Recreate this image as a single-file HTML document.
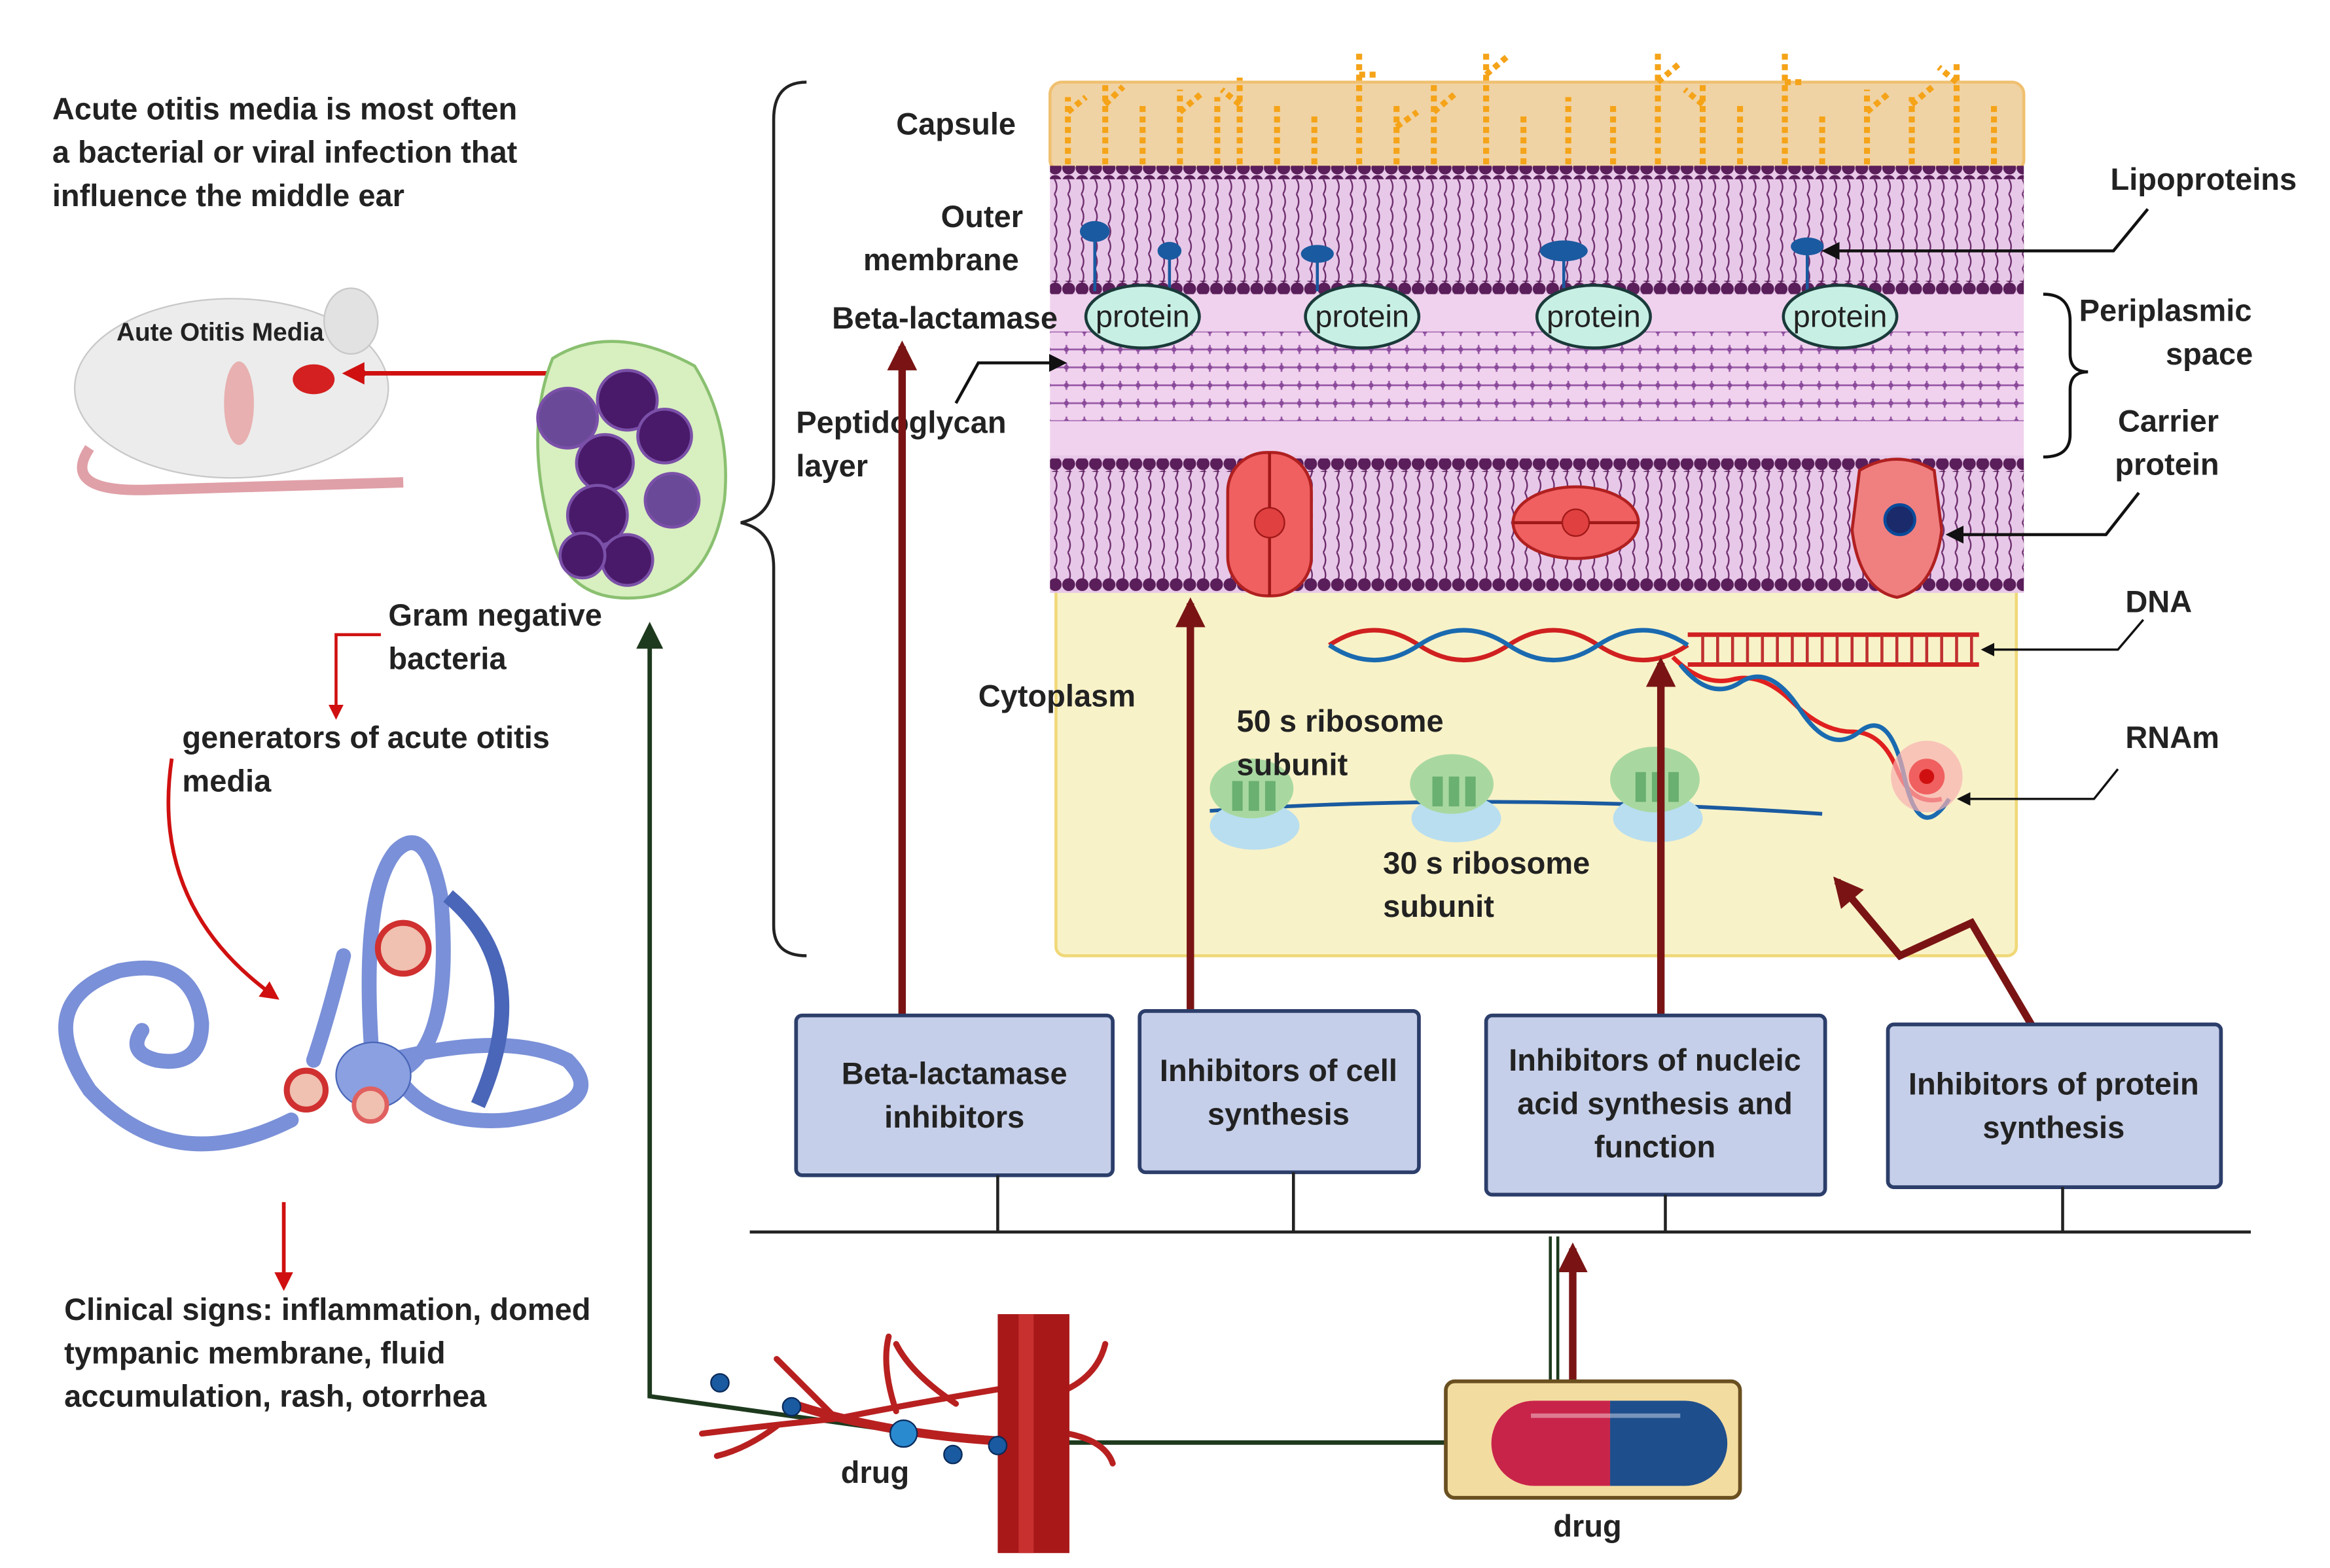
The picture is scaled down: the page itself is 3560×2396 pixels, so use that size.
<!DOCTYPE html>
<html><head><meta charset="utf-8"><style>
html,body{margin:0;padding:0;background:#fff}
svg{display:block}
text{font-family:"Liberation Sans",sans-serif;font-weight:bold;fill:#222;font-size:20.6px}
</style></head><body>
<svg width="3560" height="2396" viewBox="0 0 1560 1050" preserveAspectRatio="none" xmlns="http://www.w3.org/2000/svg">
<defs>
<marker id="ar" viewBox="0 0 10 10" refX="8" refY="5" markerWidth="5" markerHeight="5" orient="auto"><path d="M0,0L10,5L0,10z" fill="#d01010"/></marker>
<marker id="dr" viewBox="0 0 10 10" refX="8" refY="5" markerWidth="4" markerHeight="4" orient="auto"><path d="M0,0L10,5L0,10z" fill="#7a1414"/></marker>
<marker id="bk" viewBox="0 0 10 10" refX="8" refY="5" markerWidth="6" markerHeight="6" orient="auto"><path d="M0,0L10,5L0,10z" fill="#111"/></marker>
<marker id="gr" viewBox="0 0 10 10" refX="8" refY="5" markerWidth="6" markerHeight="6" orient="auto"><path d="M0,0L10,5L0,10z" fill="#1e3a1e"/></marker>
<pattern id="lip" width="9" height="10" patternUnits="userSpaceOnUse"><path d="M4,0 q3,5 0,10" stroke="#6a2a6a" fill="none" stroke-width="1"/></pattern>
<pattern id="dots" width="9" height="9" patternUnits="userSpaceOnUse"><circle cx="4.5" cy="4.5" r="4.3" fill="#5a1e5a"/></pattern>
<pattern id="pg" width="12" height="12" patternUnits="userSpaceOnUse"><path d="M0,6h12M6,3v6" stroke="#9a5aa8" stroke-width="1.2"/><circle cx="6" cy="6" r="1.6" fill="#8a4a9a"/></pattern>
</defs>

<text x="35" y="80">Acute otitis media is most often</text>
<text x="35" y="109">a bacterial or viral infection that</text>
<text x="35" y="138">influence the middle ear</text>

<!-- mouse -->
<ellipse cx="155" cy="260" rx="105" ry="60" fill="#ececec" stroke="#c8c8c8"/>
<ellipse cx="235" cy="215" rx="18" ry="22" fill="#e2e2e2" stroke="#c8c8c8"/>
<path d="M60,300 q-20,30 40,28 l170,-5" stroke="#e0a0a8" stroke-width="7" fill="none"/>
<ellipse cx="160" cy="270" rx="10" ry="28" fill="#e8b0b0"/>
<ellipse cx="210" cy="254" rx="14" ry="10" fill="#d42020"/>
<circle cx="242" cy="250" r="3" fill="#c01010"/>
<text x="78" y="228" style="font-size:17px">Aute Otitis Media</text>
<line x1="392" y1="250" x2="232" y2="250" stroke="#d01010" stroke-width="3" marker-end="url(#ar)"/>

<!-- bacteria -->
<path d="M370,240 q40,-25 95,5 q25,40 20,90 q-10,60 -55,65 q-50,5 -60,-40 q-20,-70 0,-120z" fill="#d8efc0" stroke="#8ac070" stroke-width="2"/>
<g fill="#4a1a6a" stroke="#7a50a8" stroke-width="2">
<circle cx="380" cy="280" r="20" fill="#6a4a98"/><circle cx="420" cy="268" r="20"/><circle cx="445" cy="292" r="18"/><circle cx="405" cy="310" r="19"/><circle cx="450" cy="335" r="18" fill="#6a4a98"/><circle cx="400" cy="345" r="20"/><circle cx="420" cy="375" r="17"/><circle cx="390" cy="372" r="15"/>
</g>
<text x="260" y="419">Gram negative</text>
<text x="260" y="448">bacteria</text>
<path d="M255,425 H225 V480" stroke="#d01010" stroke-width="2" fill="none" marker-end="url(#ar)"/>
<text x="122" y="501">generators of acute otitis</text>
<text x="122" y="530">media</text>
<path d="M115,508 q-15,100 70,160" stroke="#d01010" stroke-width="2.5" fill="none" marker-end="url(#ar)"/>

<!-- inner ear -->
<g fill="none" stroke="#7a90d8" stroke-width="10" stroke-linecap="round">
<path d="M195,750 q-80,40 -135,-20 q-40,-60 20,-80 q50,-10 55,35 q0,30 -30,25 q-20,-5 -10,-20"/>
<path d="M250,720 q-10,-120 15,-150 q20,-20 30,30 q10,110 -35,120"/>
<path d="M260,710 q80,-20 120,0 q30,30 -40,40 q-60,5 -80,-40"/>
<path d="M230,640 q-10,40 -20,70"/>
</g>
<path d="M300,600 q60,50 20,140" stroke="#4a66b8" stroke-width="10" fill="none"/>
<ellipse cx="250" cy="720" rx="25" ry="22" fill="#8aa0e0" stroke="#4a66b8"/>
<circle cx="270" cy="635" r="17" fill="#f0c0b0" stroke="#d03030" stroke-width="4"/>
<circle cx="205" cy="730" r="13" fill="#f0c0b0" stroke="#d03030" stroke-width="4"/>
<circle cx="248" cy="740" r="11" fill="#f0c0b0" stroke="#e06060" stroke-width="3"/>
<line x1="190" y1="805" x2="190" y2="862" stroke="#d01010" stroke-width="2.5" marker-end="url(#ar)"/>
<text x="43" y="884">Clinical signs: inflammation, domed</text>
<text x="43" y="913">tympanic membrane, fluid</text>
<text x="43" y="942">accumulation, rash, otorrhea</text>

<path d="M540,55 q-22,0 -22,25 v240 q0,25 -22,30 q22,5 22,30 v240 q0,20 22,20" stroke="#222" stroke-width="2" fill="none"/>

<rect x="707" y="380" width="643" height="260" rx="6" fill="#f8f2c8" stroke="#f0d878" stroke-width="2"/>
<rect x="703" y="55" width="652" height="60" rx="8" fill="#f0d3a4" stroke="#f0c070" stroke-width="2"/>
<g stroke="#f5a318" stroke-width="4" stroke-dasharray="4 3" fill="none">
<path d="M715,110v-45M740,110v-55M765,110v-40M790,110v-50M815,110v-45M830,110v-58M855,110v-40M880,110v-35M910,110v-75M935,110v-40M960,110v-55M995,110v-75M1020,110v-35M1050,110v-45M1080,110v-40M1110,110v-75M1140,110v-55M1165,110v-40M1195,110v-75M1220,110v-35M1250,110v-50M1280,110v-45M1310,110v-70M1335,110v-40"/>
<path d="M715,75l12,-10M740,70l12,-12M790,75l14,-12M830,70l-12,-10M910,50h14M935,85l14,-10M960,75l14,-12M995,50l14,-12M1110,55l14,-12M1140,70l-12,-10M1195,55h14M1250,75l14,-12M1280,70l14,-12M1310,55l-12,-10"/>
</g>
<rect x="703" y="112" width="652" height="85" fill="#e8c8e8"/>
<rect x="703" y="120" width="652" height="70" fill="url(#lip)"/>
<rect x="703" y="111" width="652" height="9" fill="url(#dots)"/>
<rect x="703" y="188" width="652" height="9" fill="url(#dots)"/>
<rect x="703" y="197" width="652" height="108" fill="#f0d2ee"/>
<rect x="703" y="222" width="652" height="60" fill="url(#pg)"/>
<rect x="703" y="305" width="652" height="92" fill="#e8c8e8"/>
<rect x="703" y="314" width="652" height="75" fill="url(#lip)"/>
<rect x="703" y="307" width="652" height="9" fill="url(#dots)"/>
<rect x="703" y="387" width="652" height="9" fill="url(#dots)"/>

<g fill="#1a5aa0"><ellipse cx="733" cy="155" rx="10" ry="7"/><ellipse cx="783" cy="168" rx="8" ry="6"/><ellipse cx="882" cy="170" rx="11" ry="6"/><ellipse cx="1047" cy="168" rx="16" ry="7"/><ellipse cx="1210" cy="165" rx="11" ry="6"/></g>
<g stroke="#1a5aa0" stroke-width="2"><path d="M733,160v35M783,172v22M882,175v20M1047,173v20M1210,170v25"/></g>
<g fill="#c8efe4" stroke="#1a3a3a" stroke-width="2">
<ellipse cx="765" cy="212" rx="38" ry="21"/><ellipse cx="912" cy="212" rx="38" ry="21"/><ellipse cx="1067" cy="212" rx="38" ry="21"/><ellipse cx="1232" cy="212" rx="38" ry="21"/>
</g>
<text x="765" y="219" text-anchor="middle" style="font-weight:normal">protein</text><text x="912" y="219" text-anchor="middle" style="font-weight:normal">protein</text><text x="1067" y="219" text-anchor="middle" style="font-weight:normal">protein</text><text x="1232" y="219" text-anchor="middle" style="font-weight:normal">protein</text>
<rect x="822" y="303" width="56" height="96" rx="26" fill="#f06060" stroke="#b02020" stroke-width="2"/>
<line x1="850" y1="303" x2="850" y2="399" stroke="#a01818" stroke-width="2"/><circle cx="850" cy="350" r="10" fill="#e04040" stroke="#a01818"/>
<ellipse cx="1055" cy="350" rx="42" ry="24" fill="#f06060" stroke="#b02020" stroke-width="2"/><line x1="1013" y1="350" x2="1097" y2="350" stroke="#a01818" stroke-width="2"/><circle cx="1055" cy="350" r="9" fill="#e04040" stroke="#a01818"/>
<path d="M1245,315 q25,-15 50,0 l5,40 q-5,40 -30,45 q-25,-5 -30,-45z" fill="#f08080" stroke="#b02020" stroke-width="2"/>
<circle cx="1272" cy="348" r="10" fill="#1a2a6a" stroke="#0a4a9a" stroke-width="2"/>

<path d="M890,432 q30,-20 60,0 t60,0 t60,0 t60,0" stroke="#d02020" stroke-width="3" fill="none"/>
<path d="M890,432 q30,20 60,0 t60,0 t60,0 t60,0" stroke="#1a6ab0" stroke-width="3" fill="none"/>
<path d="M1130,425 H1325 M1130,445 H1325" stroke="#d02020" stroke-width="3"/>
<g stroke="#c03030" stroke-width="2"><path d="M1140,425v20M1150,425v20M1160,425v20M1170,425v20M1180,425v20M1190,425v20M1200,425v20M1210,425v20M1220,425v20M1230,425v20M1240,425v20M1250,425v20M1260,425v20M1270,425v20M1280,425v20M1290,425v20M1300,425v20M1310,425v20M1320,425v20"/></g>
<path d="M1120,440 q20,20 40,15 t40,15 t40,20 t30,25 t30,20" stroke="#e02020" stroke-width="3" fill="none"/>
<path d="M1125,445 q20,25 40,12 t40,18 t40,15 t30,30 t30,15" stroke="#1a6ab0" stroke-width="3" fill="none"/>
<circle cx="1290" cy="520" r="24" fill="#f8b0b0" opacity="0.7"/><circle cx="1290" cy="520" r="12" fill="#f06060"/><circle cx="1290" cy="520" r="5" fill="#d01010"/>
<path d="M810,543 Q1000,530 1220,545" stroke="#1a5aa0" stroke-width="2.5" fill="none"/>
<g>
<ellipse cx="840" cy="553" rx="30" ry="16" fill="#b8def0"/><ellipse cx="838" cy="528" rx="28" ry="20" fill="#a8d8a0"/>
<ellipse cx="975" cy="548" rx="30" ry="16" fill="#b8def0"/><ellipse cx="972" cy="525" rx="28" ry="20" fill="#a8d8a0"/>
<ellipse cx="1110" cy="548" rx="30" ry="16" fill="#b8def0"/><ellipse cx="1108" cy="522" rx="30" ry="22" fill="#a8d8a0"/>
</g>
<g fill="#6ab070"><rect x="825" y="523" width="7" height="20"/><rect x="836" y="523" width="7" height="20"/><rect x="847" y="523" width="7" height="20"/><rect x="959" y="520" width="7" height="20"/><rect x="970" y="520" width="7" height="20"/><rect x="981" y="520" width="7" height="20"/><rect x="1095" y="517" width="7" height="20"/><rect x="1106" y="517" width="7" height="20"/><rect x="1117" y="517" width="7" height="20"/></g>
<text x="828" y="490">50 s ribosome</text>
<text x="828" y="519">subunit</text>
<text x="926" y="585">30 s ribosome</text>
<text x="926" y="614">subunit</text>

<text x="600" y="90">Capsule</text>
<text x="630" y="152">Outer</text>
<text x="578" y="181">membrane</text>
<text x="557" y="220">Beta-lactamase</text>
<text x="533" y="290">Peptidoglycan</text>
<text x="533" y="319">layer</text>
<text x="655" y="473">Cytoplasm</text>
<path d="M640,270 L655,243 H712" stroke="#111" stroke-width="2" fill="none" marker-end="url(#bk)"/>

<text x="1413" y="127">Lipoproteins</text>
<path d="M1438,140 L1415,168 H1222" stroke="#111" stroke-width="2" fill="none" marker-end="url(#bk)"/>
<text x="1392" y="215">Periplasmic</text>
<text x="1450" y="244">space</text>
<path d="M1368,197 q18,0 18,18 v22 q0,12 12,12 q-12,0 -12,12 v30 q0,15 -18,15" stroke="#111" stroke-width="2" fill="none"/>
<text x="1418" y="289">Carrier</text>
<text x="1416" y="318">protein</text>
<path d="M1432,330 L1410,358 H1305" stroke="#111" stroke-width="2" fill="none" marker-end="url(#bk)"/>
<text x="1423" y="410">DNA</text>
<path d="M1435,415 L1418,435 H1328" stroke="#111" stroke-width="1.5" fill="none" marker-end="url(#bk)"/>
<text x="1423" y="501">RNAm</text>
<path d="M1418,515 L1402,535 H1312" stroke="#111" stroke-width="1.5" fill="none" marker-end="url(#bk)"/>

<g stroke="#7a1414" stroke-width="5" fill="none" marker-end="url(#dr)">
<path d="M604,680 V232"/>
<path d="M797,677 V404"/>
<path d="M1112,680 V444"/>
<path d="M1360,686 L1320,618 L1272,640 L1230,590"/>
<path d="M1053,925 V836"/>
</g>

<g fill="#c6cfe9" stroke="#2c3e6a" stroke-width="2.5">
<rect x="533" y="680" width="212" height="107" rx="4"/>
<rect x="763" y="677" width="187" height="108" rx="4"/>
<rect x="995" y="680" width="227" height="120" rx="4"/>
<rect x="1264" y="686" width="223" height="109" rx="4"/>
</g>
<g text-anchor="middle">
<text x="639" y="726">Beta-lactamase</text><text x="639" y="755">inhibitors</text>
<text x="856" y="724">Inhibitors of cell</text><text x="856" y="753">synthesis</text>
<text x="1108" y="717">Inhibitors of nucleic</text><text x="1108" y="746">acid synthesis and</text><text x="1108" y="775">function</text>
<text x="1375" y="733">Inhibitors of protein</text><text x="1375" y="762">synthesis</text>
</g>
<g stroke="#222" stroke-width="2">
<line x1="502" y1="825" x2="1507" y2="825"/>
<line x1="668" y1="787" x2="668" y2="825"/><line x1="866" y1="785" x2="866" y2="825"/><line x1="1115" y1="800" x2="1115" y2="825"/><line x1="1381" y1="795" x2="1381" y2="825"/>
</g>

<path d="M1038,925 V828 M1043,925 V828" stroke="#1e3a1e" stroke-width="2"/>
<path d="M970,966 H700 L600,958 L435,935 V420" stroke="#1e3a1e" stroke-width="3" fill="none" marker-end="url(#gr)"/>

<g stroke="#b82020" stroke-width="4" fill="none" stroke-linecap="round">
<path d="M670,930 q-60,10 -110,20 q-50,5 -90,10"/>
<path d="M560,950 q-20,-20 -40,-40 M600,945 q-10,-30 -5,-50 M520,955 q-20,15 -40,20 M640,940 q-30,-20 -40,-40"/>
<path d="M715,930 q20,-10 25,-30 M715,960 q25,5 30,20"/>
</g>
<path d="M530,940 q60,20 140,25" stroke="#b82020" stroke-width="6" fill="none"/>
<rect x="668" y="880" width="48" height="160" fill="#a81818"/>
<rect x="682" y="880" width="10" height="160" fill="#c83030"/>
<g fill="#1a5aa0" stroke="#0a2a5a"><circle cx="482" cy="926" r="6"/><circle cx="530" cy="942" r="6"/><circle cx="605" cy="960" r="9" fill="#2a8ad0"/><circle cx="638" cy="974" r="6"/><circle cx="668" cy="968" r="6"/></g>
<text x="563" y="993">drug</text>

<rect x="968" y="925" width="197" height="78" rx="6" fill="#f3dca0" stroke="#6a5020" stroke-width="2.5"/>
<path d="M1027,938 H1078 V995 H1027 a28.5,28.5 0 0 1 0,-57z" fill="#c8244a"/>
<path d="M1078,938 H1128 a28.5,28.5 0 0 1 0,57 H1078z" fill="#1e4e8c"/>
<line x1="1025" y1="948" x2="1125" y2="948" stroke="#ffffff" stroke-opacity="0.4" stroke-width="3"/>
<text x="1040" y="1029">drug</text>
</svg>
</body></html>
